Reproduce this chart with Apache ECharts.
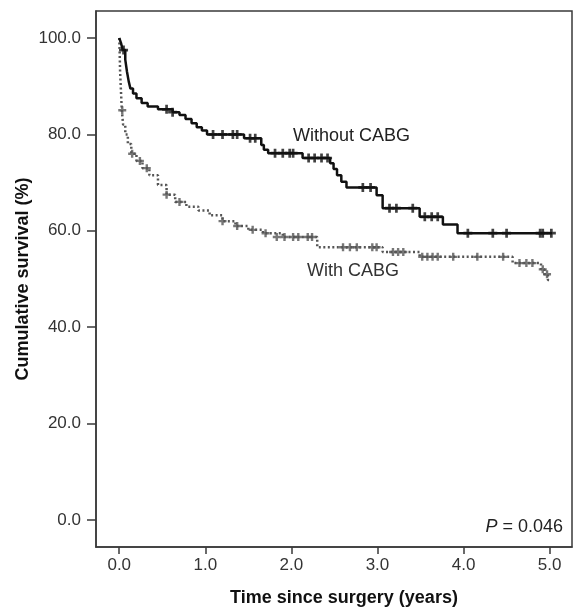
<!DOCTYPE html>
<html>
<head>
<meta charset="utf-8">
<script src="https://cdn.jsdelivr.net/npm/echarts@6/dist/echarts.min.js"></script>
<style>
  html, body { margin: 0; padding: 0; background: #fff; }
  #chart { width: 573px; height: 608px; }
</style>
</head>
<body>
<div id="chart"></div>
<script>
// Kaplan-Meier curves, values
var xTicks = [0, 1, 2, 3, 4, 5];
var yTicks = [0, 20, 40, 60, 80, 100];

// Without CABG (solid)
var withoutTime = [0, 0.02, 0.04, 0.07, 0.09, 0.11, 0.13, 0.16, 0.2, 0.26, 0.33, 0.45, 0.62, 0.7, 0.77, 0.84, 0.9, 0.96, 1.02, 1.45, 1.65, 1.68, 1.73, 2.13, 2.45, 2.49, 2.53, 2.58, 2.64, 2.99, 3.06, 3.49, 3.76, 3.93, 5.03];
var withoutSurv = [100, 99, 97.5, 95.5, 93, 91, 89.5, 88.5, 87.5, 86.5, 85.8, 85.2, 84.6, 84, 83.2, 82.3, 81.5, 80.8, 80, 79.2, 77.8, 76.8, 76.1, 75.1, 74, 72.8, 71.5, 70.2, 69, 67.4, 64.7, 62.9, 61.3, 59.5, 59.5];
var withoutCensT = [0.05, 0.55, 0.62, 1.09, 1.2, 1.32, 1.37, 1.52, 1.58, 1.81, 1.9, 1.98, 2.02, 2.2, 2.27, 2.35, 2.42, 2.83, 2.92, 3.14, 3.22, 3.41, 3.55, 3.63, 3.7, 4.05, 4.34, 4.5, 4.89, 4.92, 5.02];
var withoutCensV = [97.5, 85.2, 84.6, 80, 80, 80, 80, 79.2, 79.2, 76.1, 76.1, 76.1, 76.1, 75.1, 75.1, 75.1, 75.1, 69, 69, 64.7, 64.7, 64.7, 62.9, 62.9, 62.9, 59.5, 59.5, 59.5, 59.5, 59.5, 59.5];

// With CABG (dotted)
var withTime = [0, 0.005, 0.01, 0.02, 0.03, 0.045, 0.07, 0.1, 0.14, 0.2, 0.27, 0.35, 0.45, 0.55, 0.65, 0.78, 0.92, 1.05, 1.2, 1.35, 1.5, 1.67, 1.9, 2.3, 3.06, 3.49, 4.57, 4.9, 4.94, 4.98, 5.01];
var withSurv = [100, 97, 93, 89, 85, 82, 80, 78, 76, 74.5, 73, 71.5, 69.5, 67.5, 66, 65, 64.2, 63.2, 62, 61, 60.2, 59.5, 58.7, 56.6, 55.6, 54.6, 53.3, 52, 51, 49.8, 49.8];
var withCensT = [0.035, 0.15, 0.24, 0.32, 0.55, 0.7, 1.2, 1.37, 1.55, 1.7, 1.83, 1.92, 2.02, 2.08, 2.19, 2.24, 2.6, 2.68, 2.76, 2.94, 2.99, 3.18, 3.24, 3.3, 3.52, 3.58, 3.64, 3.7, 3.88, 4.16, 4.46, 4.65, 4.73, 4.8, 4.92, 4.97];
var withCensV = [85, 76, 74.5, 73, 67.5, 66, 62, 61, 60.2, 59.5, 58.7, 58.7, 58.7, 58.7, 58.7, 58.7, 56.6, 56.6, 56.6, 56.6, 56.6, 55.6, 55.6, 55.6, 54.6, 54.6, 54.6, 54.6, 54.6, 54.6, 54.6, 53.3, 53.3, 53.3, 52, 51];

function zip(a, b) {
    var out = [];
    for (var i = 0; i < a.length; i++) out.push([a[i], b[i]]);
    return out;
}

var plus = 'path://M3.5,0h3v3.5h3.5v3h-3.5v3.5h-3v-3.5h-3.5v-3h3.5z';
var font = '"Liberation Sans", Arial, Helvetica, sans-serif';

var myChart = echarts.init(document.getElementById('chart'));

var option = {
    animation: false,
    backgroundColor: '#fff',
    textStyle: {fontFamily: font},
    grid: {
        left: 96, top: 11, right: 1, bottom: 61,
        outerBoundsMode: 'none',
        containLabel: false,
        show: true, borderColor: '#3a3a3a', borderWidth: 1.5, backgroundColor: 'transparent'
    },
    xAxis: {
        type: 'value',
        min: -0.27, max: 5.26,
        name: 'Time since surgery (years)',
        nameLocation: 'middle',
        nameGap: 42,
        nameMoveOverlap: false,
        nameTextStyle: {fontFamily: font, fontSize: 18, fontWeight: 'bold', color: '#111', padding: [0, 0, 0, 20]},
        axisLine: {show: true, onZero: false, lineStyle: {color: '#3a3a3a', width: 1.5}},
        axisTick: {show: true, length: 7, customValues: xTicks, lineStyle: {color: '#3a3a3a', width: 1.5}},
        axisLabel: {
            customValues: xTicks, margin: 10, fontSize: 17, color: '#333', fontFamily: font,
            formatter: function (v) { return v.toFixed(1); }
        },
        splitLine: {show: false}
    },
    yAxis: {
        type: 'value',
        min: -5.6, max: 105.6,
        name: 'Cumulative survival (%)',
        nameLocation: 'middle',
        nameGap: 64,
        nameMoveOverlap: false,
        nameTextStyle: {fontFamily: font, fontSize: 18, fontWeight: 'bold', color: '#111'},
        axisLine: {show: true, onZero: false, lineStyle: {color: '#3a3a3a', width: 1.5}},
        axisTick: {show: true, length: 9, customValues: yTicks, lineStyle: {color: '#3a3a3a', width: 1.5}},
        axisLabel: {
            customValues: yTicks, margin: 15, fontSize: 17, color: '#333', fontFamily: font,
            formatter: function (v) { return v.toFixed(1); }
        },
        splitLine: {show: false}
    },
    series: [
        {
            name: 'With CABG',
            type: 'line',
            step: 'end',
            symbol: 'none',
            data: zip(withTime, withSurv),
            lineStyle: {color: '#555', width: 2.5, type: [2, 2.5]}
        },
        {
            name: 'With CABG censored',
            type: 'scatter',
            symbol: plus,
            symbolSize: 8,
            itemStyle: {color: '#555'},
            data: zip(withCensT, withCensV)
        },
        {
            name: 'Without CABG',
            type: 'line',
            step: 'end',
            symbol: 'none',
            data: zip(withoutTime, withoutSurv),
            lineStyle: {color: '#111', width: 2.5}
        },
        {
            name: 'Without CABG censored',
            type: 'scatter',
            symbol: plus,
            symbolSize: 9,
            itemStyle: {color: '#111'},
            data: zip(withoutCensT, withoutCensV)
        }
    ],
    graphic: [
        {type: 'text', left: 293, top: 127, style: {text: 'Without CABG', font: '18px ' + font, fill: '#222'}},
        {type: 'text', left: 307, top: 262, style: {text: 'With CABG', font: '18px ' + font, fill: '#333'}},
        {
            type: 'text', right: 10, top: 518,
            style: {
                text: '{i|P}{n| = 0.046}',
                rich: {
                    i: {fontFamily: font, fontSize: 18, fontStyle: 'italic', fill: '#222'},
                    n: {fontFamily: font, fontSize: 18, fill: '#222'}
                }
            }
        }
    ]
};

myChart.setOption(option);
</script>
</body>
</html>
